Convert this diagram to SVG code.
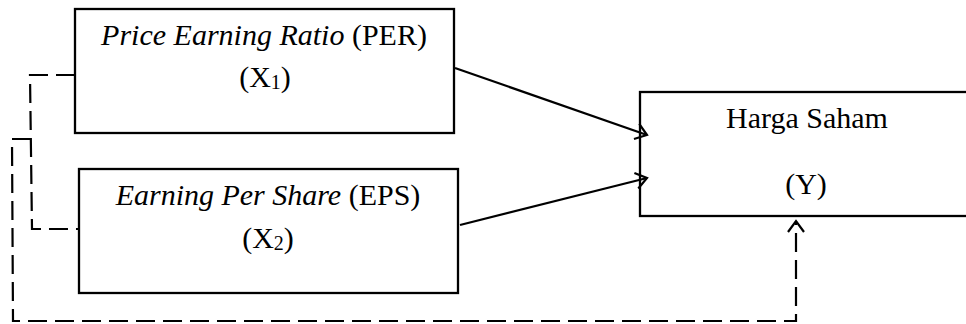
<svg xmlns="http://www.w3.org/2000/svg" width="966" height="324" viewBox="0 0 966 324">
<style>
.box{fill:#fff;stroke:#000;stroke-width:2.3}
.t{font-family:'Liberation Serif','Times New Roman',serif;font-size:30px;fill:#000;text-anchor:middle}
.i{font-style:italic}
.s{font-size:20px}
.c{fill:none;stroke:#000;stroke-width:2.2}
.d{stroke-dasharray:19 8}
</style>
<defs>
<marker id="ah" viewBox="0 0 12 18" refX="11" refY="9" markerWidth="12" markerHeight="18" markerUnits="userSpaceOnUse" orient="auto" overflow="visible">
<path d="M0,1 L11,9 L0,17" fill="none" stroke="#000" stroke-width="2.2"/>
</marker>
</defs>
<rect width="966" height="324" fill="#fff"/>
<g id="node-per">
<rect class="box" x="75" y="9" width="379" height="124"/>
<text class="t" x="264" y="45"><tspan class="i">Price Earning Ratio</tspan> (PER)</text>
<text class="t" x="265" y="87">(X<tspan class="s" dy="2">1</tspan><tspan dy="-2">)</tspan></text>
</g>
<g id="node-eps">
<rect class="box" x="79" y="169" width="379" height="124"/>
<text class="t" x="268" y="205"><tspan class="i">Earning Per Share</tspan> (EPS)</text>
<text class="t" x="268" y="248">(X<tspan class="s" dy="2">2</tspan><tspan dy="-2">)</tspan></text>
</g>
<g id="node-y">
<rect class="box" x="640" y="92" width="330" height="124"/>
<text class="t" x="807" y="128">Harga Saham</text>
<text class="t" x="806" y="194">(Y)</text>
</g>
<g id="connectors">
<line class="c" x1="455" y1="68" x2="647" y2="135" marker-end="url(#ah)"/>
<line class="c" x1="460" y1="225" x2="647" y2="178" marker-end="url(#ah)"/>
<polyline class="c d" points="75,75 30,75 32,229 79,229"/>
<polyline class="c d" points="31,139 12,139 13,321 796,321 796,221" marker-end="url(#ah)"/>
</g>
</svg>
